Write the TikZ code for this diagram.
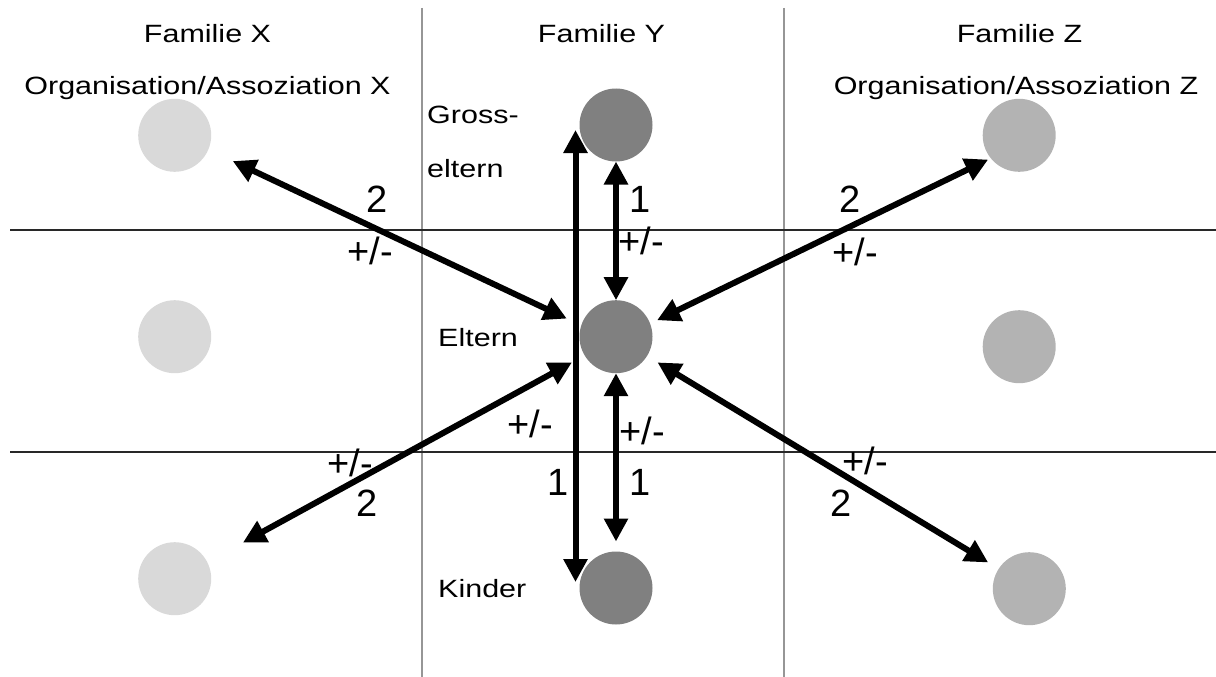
\documentclass[tikz,border=0pt]{standalone}
\usepackage{fontspec}
\setmainfont{Liberation Sans}
\usepackage{tikz}
\usetikzlibrary{arrows.meta, positioning, calc}
\usepackage{xcolor}
\definecolor{famx}{RGB}{217,217,217}
\definecolor{famy}{RGB}{128,128,128}
\definecolor{famz}{RGB}{179,179,179}
\definecolor{divider}{RGB}{150,150,150}
\definecolor{rowline}{RGB}{40,40,40}

\tikzset{
  member/.style={circle, minimum size=73pt, inner sep=0pt, outer sep=0pt},
  rel/.style={{Triangle[length=23pt,width=23pt]}-{Triangle[length=23pt,width=23pt]}, line width=6pt},
  caption/.style={anchor=base, inner sep=0pt, font=\fontsize{25}{30}\selectfont},
  gen/.style={anchor=base west, inner sep=0pt, font=\fontsize{25}{30}\selectfont},
  num/.style={anchor=base, inner sep=0pt, font=\fontsize{38}{44}\selectfont}
}
\newcommand{\wide}[1]{\scalebox{1.22}[1]{#1}}

\begin{document}
\begin{tikzpicture}[x=1pt, y=-1pt]
  \useasboundingbox (0,0) rectangle (1216,677);
  % grid
  \draw[divider, line width=1.5pt] (422,8) -- (422,677);
  \draw[divider, line width=1.5pt] (784,8) -- (784,677);
  \draw[rowline, line width=1.3pt] (10,230) -- (1216,230);
  \draw[rowline, line width=1.3pt] (10,452) -- (1216,452);

  % headings
  \node[caption] (famX) at (207.5,43) {\wide{Familie X}};
  \node[caption] (famY) at (601.5,43) {\wide{Familie Y}};
  \node[caption] (famZ) at (1019.5,43) {\wide{Familie Z}};
  \node[caption] (orgX) at (207.5,95) {\wide{Organisation/Assoziation X}};
  \node[caption] (orgZ) at (1016,95) {\wide{Organisation/Assoziation Z}};
  \node[gen] (gross) at (427,123) {\wide{Gross-}};
  \node[gen] (grossb) at (427,177) {\wide{eltern}};
  \node[gen] (eltern) at (438,346) {\wide{Eltern}};
  \node[gen] (kinder) at (438,597) {\wide{Kinder}};

  % members
  \node[member, fill=famx] (x1) at (174.7,135.3) {};
  \node[member, fill=famx] (x2) at (174.7,336.7) {};
  \node[member, fill=famx] (x3) at (174.7,578.7) {};
  \node[member, fill=famy] (y1) at (616,125) {};
  \node[member, fill=famy] (y2) at (616,336.7) {};
  \node[member, fill=famy] (y3) at (616,588) {};
  \node[member, fill=famz] (z1) at (1019.2,135.3) {};
  \node[member, fill=famz] (z2) at (1019.2,346.7) {};
  \node[member, fill=famz] (z3) at (1029.3,588.7) {};

  % relations
  \draw[rel, shorten <=27pt, shorten >=16pt] (x1.-23) -- (y2.162);
  \draw[rel, shorten <=7.8pt, shorten >=3pt] (y2.21) -- (z1.219);
  \draw[rel, shorten <=14.6pt, shorten >=40.7pt] (y2.211) -- (x3.27);
  \draw[rel, shorten <=12.3pt, shorten >=12.3pt] (y2.-32) -- (z3.147);
  \draw[rel] (y1) -- (y2);
  \draw[rel, shorten >=10pt] (y2) -- (y3);
  \draw[rel] ([xshift=-4pt,yshift=-5pt]y1.west) -- ([xshift=-4pt,yshift=6pt]y3.west);

  % weights
  \node[num] (n1) at (377,212) {2};
  \node[num] (s1) at (370,264.5) {+/-};
  \node[num] (n2) at (640,212) {1};
  \node[num] (s2) at (641,254) {+/-};
  \node[num] (n3) at (850,212) {2};
  \node[num] (s3) at (855,265) {+/-};
  \node[num] (s4) at (530,437.5) {+/-};
  \node[num] (s5) at (642,444) {+/-};
  \node[num] (n4) at (558,495) {1};
  \node[num] (n5) at (640,495) {1};
  \node[num] (s6) at (350,476.5) {+/-};
  \node[num] (n6) at (367,516) {2};
  \node[num] (s7) at (865,474) {+/-};
  \node[num] (n7) at (841,516) {2};
\end{tikzpicture}
\end{document}
